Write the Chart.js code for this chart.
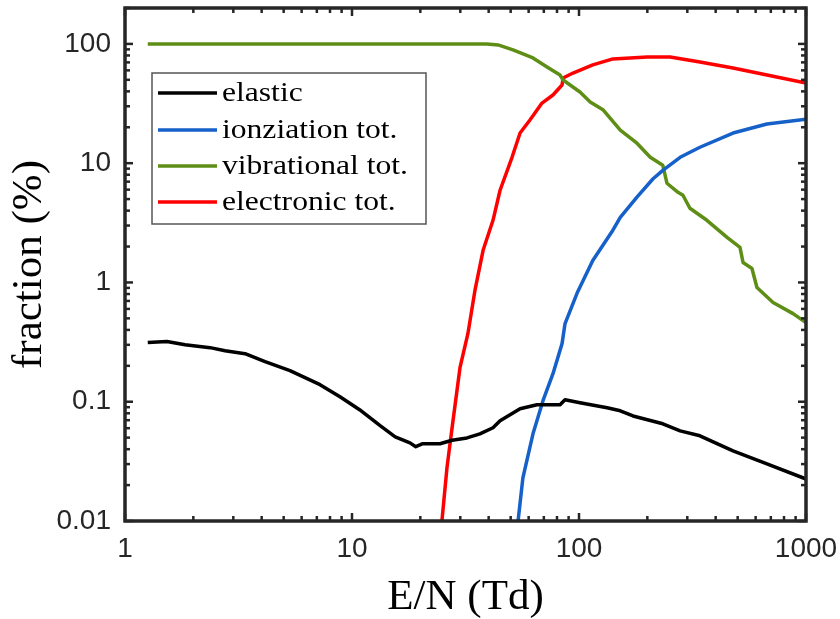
<!DOCTYPE html>
<html>
<head>
<meta charset="utf-8">
<script src="https://cdn.jsdelivr.net/npm/chart.js@4.4.0/dist/chart.umd.min.js"></script>
<style>
  html, body { margin: 0; padding: 0; background: #fff; }
  #wrap { width: 840px; height: 619px; }
</style>
</head>
<body>
<div id="wrap"><canvas id="fracChart" width="840" height="619"></canvas></div>
<script>
// E/N (Td) and fraction (%) for each energy loss channel
const elasticE = [1.26, 1.53, 1.84, 2.37, 2.76, 3.38, 4.14, 5.33, 7.23, 8.85, 10.8, 13.3, 15.5, 18.0, 19.1, 20.5, 24.4, 27.6, 32.1, 36.6, 41.8, 44.9, 55.0, 65.3, 82.5, 86.8, 101, 133, 152, 173, 234, 279, 341, 477, 673, 1000];
const elasticFrac = [0.313, 0.32, 0.30, 0.284, 0.268, 0.253, 0.217, 0.182, 0.139, 0.110, 0.0857, 0.063, 0.0508, 0.0452, 0.042, 0.0445, 0.0444, 0.0475, 0.0497, 0.0538, 0.0605, 0.0692, 0.0873, 0.0944, 0.0944, 0.104, 0.098, 0.089, 0.084, 0.076, 0.0653, 0.057, 0.0518, 0.0387, 0.0301, 0.0225];

const ionE = [53.9, 56.6, 62.7, 69.4, 76.8, 84.2, 86.8, 98, 115, 141, 152, 180, 212, 234, 279, 341, 477, 673, 1000];
const ionFrac = [0.01, 0.023, 0.0538, 0.102, 0.172, 0.307, 0.452, 0.81, 1.53, 2.74, 3.52, 5.2, 7.4, 8.7, 11.2, 13.6, 17.9, 21.3, 23.4];

const vibE = [1.26, 39.3, 44, 51.2, 62.7, 72.3, 82.5, 85.1, 101, 112, 128, 152, 180, 206, 234, 244, 273, 287, 308, 366, 449, 512, 528, 578, 608, 716, 877, 1000];
const vibFrac = [100, 100, 98, 89, 76.3, 64.1, 54.8, 49.8, 39.5, 32.6, 27.9, 18.9, 14.7, 11.2, 9.6, 6.79, 5.7, 5.38, 4.19, 3.32, 2.39, 1.97, 1.47, 1.31, 0.908, 0.679, 0.548, 0.461];

const elecE = [24.9, 26.2, 27.6, 29.9, 32.4, 34.8, 37.8, 41.8, 44.9, 50.7, 55, 60.8, 68.7, 76.8, 84.2, 85.1, 94.1, 115, 141, 200, 252, 341, 477, 673, 1000];
const elecFrac = [0.01, 0.0279, 0.0605, 0.193, 0.372, 0.857, 1.86, 3.32, 5.93, 11.2, 17.9, 23.0, 31.9, 37.3, 45.2, 51.8, 57.0, 66.7, 74.8, 77.8, 77.8, 70.6, 62.8, 54.8, 47.0];

const xTicks = [1, 10, 100, 1000];
const yTicks = [0.01, 0.1, 1, 10, 100];

const toPoints = (xs, ys) => xs.map((x, i) => ({ x: x, y: ys[i] }));

function series(label, xs, ys, color) {
  return {
    label: label,
    data: toPoints(xs, ys),
    borderColor: color,
    backgroundColor: color,
    borderWidth: 3.5,
    borderJoinStyle: "round",
    pointRadius: 0,
    showLine: true,
    tension: 0
  };
}

// axes box with inward ticks on all four sides
const frame = {
  id: "frame",
  afterDatasetsDraw(chart) {
    const { ctx, chartArea: a, scales } = chart;
    const xs = scales.x, ys = scales.y;
    ctx.save();
    ctx.strokeStyle = "#262626";
    ctx.lineWidth = 2.5;
    const tick = (x1, y1, x2, y2) => {
      ctx.beginPath(); ctx.moveTo(x1, y1); ctx.lineTo(x2, y2); ctx.stroke();
    };
    for (let d = 1; d <= 1000; d *= 10) {
      for (let k = 1; k <= 9; k++) {
        const v = k * d;
        if (v > 1000) break;
        const p = xs.getPixelForValue(v);
        const len = k === 1 ? 8 : 5;
        tick(p, a.bottom, p, a.bottom - len);
        tick(p, a.top, p, a.top + len);
      }
    }
    for (let d = 0.01; d <= 100; d *= 10) {
      for (let k = 1; k <= 9; k++) {
        const v = k * d;
        if (v > 200) break;
        const p = ys.getPixelForValue(v);
        const len = k === 1 ? 8 : 5;
        tick(a.left, p, a.left + len, p);
        tick(a.right, p, a.right - len, p);
      }
    }
    ctx.lineWidth = 3.5;
    ctx.strokeRect(a.left, a.top, a.right - a.left, a.bottom - a.top);
    ctx.restore();
  }
};

// boxed legend inside the plot, upper left
const boxLegend = {
  id: "boxLegend",
  afterDraw(chart) {
    const { ctx } = chart;
    const x0 = 152, y0 = 73, w = 274, h = 151;
    const rows = [93, 130, 166, 202];
    ctx.save();
    ctx.fillStyle = "#fff";
    ctx.fillRect(x0, y0, w, h);
    ctx.strokeStyle = "#555";
    ctx.lineWidth = 1.5;
    ctx.strokeRect(x0, y0, w, h);
    chart.data.datasets.forEach((ds, i) => {
      const y = rows[i];
      ctx.strokeStyle = ds.borderColor;
      ctx.lineWidth = 3.5;
      ctx.beginPath(); ctx.moveTo(158, y); ctx.lineTo(217, y); ctx.stroke();
      ctx.save();
      ctx.translate(222, y + 1);
      ctx.scale(1.17, 1);
      ctx.fillStyle = "#000";
      ctx.font = "27px 'Liberation Serif'";
      ctx.textBaseline = "middle";
      ctx.fillText(ds.label, 0, 0);
      ctx.restore();
    });
    ctx.restore();
  }
};

const tickFont = { family: "'Liberation Sans', Arial, sans-serif", size: 28 };
const titleFont = { family: "'Liberation Serif', 'Times New Roman', serif", size: 43, lineHeight: 1 };

new Chart(document.getElementById("fracChart").getContext("2d"), {
  type: "scatter",
  data: {
    datasets: [
      series("elastic", elasticE, elasticFrac, "#000000"),
      series("ionziation tot.", ionE, ionFrac, "#1660c9"),
      series("vibrational tot.", vibE, vibFrac, "#5e8e16"),
      series("electronic tot.", elecE, elecFrac, "#ff0000")
    ]
  },
  options: {
    responsive: false,
    animation: false,
    layout: { padding: { top: 8, right: 34, left: 0, bottom: 0 } },
    plugins: { legend: { display: false }, tooltip: { enabled: false } },
    scales: {
      x: {
        type: "logarithmic",
        min: 1,
        max: 1000,
        grid: { display: false, drawTicks: false },
        border: { display: false },
        afterBuildTicks: s => { s.ticks = xTicks.map(v => ({ value: v })); },
        afterFit: s => { s.height = 98; s.paddingLeft = 0; s.paddingRight = 0; },
        ticks: {
          autoSkip: false, maxRotation: 0, padding: 11,
          color: "#262626", font: tickFont,
          callback: v => String(v)
        },
        title: { display: true, text: "E/N (Td)", color: "#000", font: titleFont, padding: { top: 0, bottom: 0 } }
      },
      y: {
        type: "logarithmic",
        min: 0.01,
        max: 200,
        grid: { display: false, drawTicks: false },
        border: { display: false },
        afterBuildTicks: s => { s.ticks = yTicks.map(v => ({ value: v })); },
        afterFit: s => { s.width = 125; s.paddingTop = 0; s.paddingBottom = 0; },
        ticks: {
          autoSkip: false, padding: 14,
          color: "#262626", font: tickFont,
          callback: v => String(v)
        },
        title: { display: true, text: "fraction (%)", color: "#000", font: titleFont, padding: { top: 8, bottom: 0 } }
      }
    }
  },
  plugins: [frame, boxLegend]
});
</script>
</body>
</html>
